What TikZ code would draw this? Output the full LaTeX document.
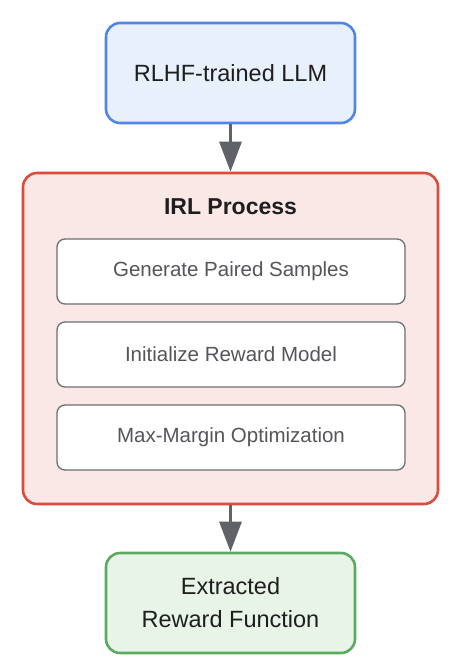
\documentclass[tikz,border=0pt]{standalone}
\usepackage{fontspec}
\setmainfont{Liberation Sans}
\usetikzlibrary{arrows.meta}
\definecolor{bluebd}{RGB}{80,134,230}
\definecolor{bluefill}{RGB}{232,240,252}
\definecolor{redbd}{RGB}{218,76,62}
\definecolor{redfill}{RGB}{249,232,230}
\definecolor{greenbd}{RGB}{92,170,96}
\definecolor{greenfill}{RGB}{232,244,232}
\definecolor{innerbd}{RGB}{110,110,115}
\definecolor{innertxt}{RGB}{85,85,90}
\definecolor{arrowc}{RGB}{95,99,104}
\definecolor{txt}{RGB}{30,30,30}
\tikzset{
  mainbox/.style={rounded corners=14pt, line width=2.6pt, minimum width=249pt, minimum height=100pt, inner sep=0pt, align=center, text=txt, font=\fontsize{23.5}{33}\selectfont},
  innerbox/.style={rounded corners=8pt, line width=1.3pt, draw=innerbd, fill=white, minimum width=348pt, minimum height=65pt, inner sep=0pt, text=innertxt, font=\fontsize{20.5}{24}\selectfont},
  flow/.style={draw=arrowc, line width=3pt, -{Triangle[length=30pt,width=22pt]}}
}
\begin{document}
\begin{tikzpicture}[x=1pt,y=-1pt]
\useasboundingbox (0,0) rectangle (464,657);
\node[mainbox, draw=bluebd, fill=bluefill] (llm) at (230.5,73) {RLHF-trained LLM};
\node[draw=redbd, fill=redfill, rounded corners=14pt, line width=2.6pt, minimum width=415pt, minimum height=331pt, inner sep=0pt] (irl) at (230.5,338.5) {};
\node[font=\bfseries\fontsize{23}{27}\selectfont, text=txt] (title) at (230.5,207) {IRL Process};
\node[innerbox] (gen) at (231,271.5) {Generate Paired Samples};
\node[innerbox] (init) at (231,354.5) {Initialize Reward Model};
\node[innerbox] (mm) at (231,437.5) {Max-Margin Optimization};
\node[mainbox, draw=greenbd, fill=greenfill] (rf) at (230.5,603) {Extracted\\Reward Function};
\draw[flow] (llm.south) -- (irl.north);
\draw[flow] (irl.south) -- (rf.north);
\end{tikzpicture}
\end{document}
